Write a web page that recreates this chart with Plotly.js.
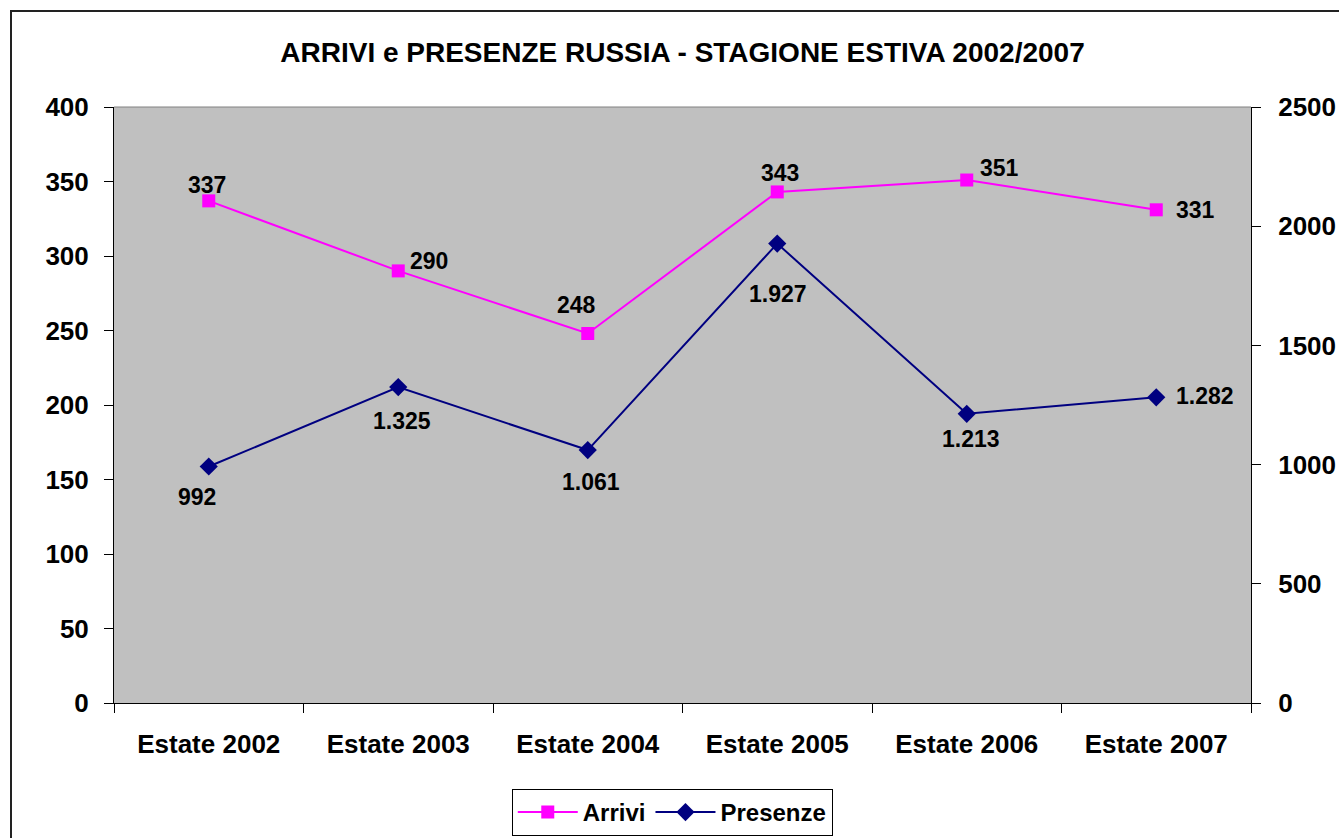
<!DOCTYPE html>
<html>
<head>
<meta charset="utf-8">
<script src="https://cdn.plot.ly/plotly-3.0.1.min.js"></script>
<style>
  html, body { margin: 0; padding: 0; background: #fff; overflow: hidden; }
  #chart { width: 1339px; height: 838px; position: absolute; left: 0; top: 0; }
  #frame { position: absolute; left: 10px; top: 10px; width: 1400px; height: 900px;
           border-left: 2px solid #222; border-top: 2px solid #222; pointer-events: none; }
</style>
</head>
<body>
<div id="chart"></div>
<div id="frame"></div>
<script>
const categories = ["Estate 2002", "Estate 2003", "Estate 2004", "Estate 2005", "Estate 2006", "Estate 2007"];
const arrivi = [337, 290, 248, 343, 351, 331];
const presenze = [992, 1325, 1061, 1927, 1213, 1282];

// label offsets (pixels) – styling only
const arriviShift = [[-2, 16], [31, 10], [-11, 28], [3, 19], [33, 12], [39, 0]];
const presenzeShift = [[-12, -30], [4, -34], [3, -32], [1, -50], [4, -25], [49, 1]];

function itFmt(v) {
  return String(v).replace(/\B(?=(\d{3})+(?!\d))/g, ".");
}

const FONT = "Liberation Sans, Arial, sans-serif";

const traces = [
  {
    x: categories, y: arrivi, name: "Arrivi", type: "scatter", mode: "lines+markers",
    line: { color: "#FF00FF", width: 2 },
    marker: { symbol: "square", size: 13, color: "#FF00FF" },
    yaxis: "y"
  },
  {
    x: categories, y: presenze, name: "Presenze", type: "scatter", mode: "lines+markers",
    line: { color: "#000080", width: 2 },
    marker: { symbol: "diamond", size: 14, color: "#000080" },
    yaxis: "y2"
  }
];

const annotations = [];
categories.forEach((c, i) => {
  annotations.push({
    x: c, y: arrivi[i], xref: "x", yref: "y", text: itFmt(arrivi[i]),
    showarrow: false, xshift: arriviShift[i][0], yshift: arriviShift[i][1],
    font: { family: FONT, size: 23, color: "#000", weight: "bold" }
  });
  annotations.push({
    x: c, y: presenze[i], xref: "x", yref: "y2", text: itFmt(presenze[i]),
    showarrow: false, xshift: presenzeShift[i][0], yshift: presenzeShift[i][1],
    font: { family: FONT, size: 23, color: "#000", weight: "bold" }
  });
});

const tickFont = { family: FONT, size: 26, color: "#000", weight: "bold" };

const layout = {
  width: 1339, height: 838,
  paper_bgcolor: "#FFFFFF",
  plot_bgcolor: "#C0C0C0",
  margin: { l: 114, r: 88, t: 107, b: 135 },
  title: {
    text: "<b>ARRIVI e PRESENZE RUSSIA - STAGIONE ESTIVA 2002/2007</b>",
    font: { family: FONT, size: 28, color: "#000" },
    x: 0.5, xref: "paper", y: 1 - 52 / 838, yref: "container", yanchor: "middle"
  },
  showlegend: true,
  legend: {
    orientation: "h", x: 0.491, xanchor: "center", xref: "paper",
    y: 1 - 789 / 838, yanchor: "top", yref: "container",
    bgcolor: "#FFFFFF", bordercolor: "#000", borderwidth: 1,
    font: { family: FONT, size: 24, color: "#000", weight: "bold" },
    itemwidth: 60
  },
  xaxis: {
    type: "category", range: [-0.5, 5.5], tickson: "boundaries", ticks: "outside", ticklen: 9,
    tickcolor: "#000", tickwidth: 1,
    showline: true, linecolor: "#000", linewidth: 1,
    showgrid: false, zeroline: false,
    tickfont: tickFont, ticklabelstandoff: 18, fixedrange: true
  },
  yaxis: {
    range: [0, 400], dtick: 50, ticks: "outside", ticklen: 9, tickcolor: "#000",
    showline: true, linecolor: "#000", linewidth: 1,
    showgrid: false, zeroline: false,
    tickfont: tickFont, ticklabelstandoff: 10, fixedrange: true
  },
  yaxis2: {
    range: [0, 2500], dtick: 500, overlaying: "y", side: "right",
    ticks: "outside", ticklen: 9, tickcolor: "#000",
    showline: true, linecolor: "#000", linewidth: 1,
    showgrid: false, zeroline: false,
    tickfont: tickFont, ticklabelstandoff: 12, fixedrange: true
  },
  shapes: [
    { type: "line", xref: "paper", yref: "paper", x0: 0, x1: 1, y0: 1, y1: 1,
      line: { color: "#808080", width: 1 } }
  ],
  annotations: annotations
};

Plotly.newPlot("chart", traces, layout, { displayModeBar: false, staticPlot: true });
</script>
</body>
</html>
